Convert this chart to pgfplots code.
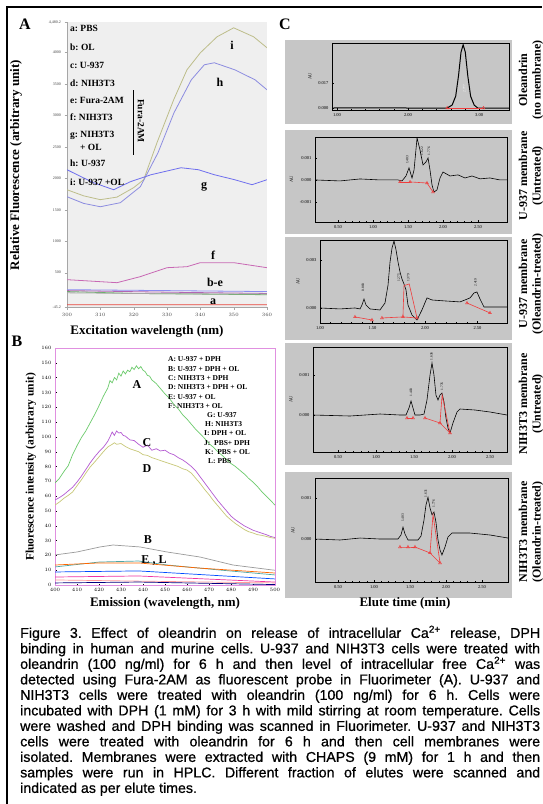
\documentclass[border=0pt]{standalone}
\usepackage{pgfplots}
\pgfplotsset{compat=1.18}
\usepackage{fontspec}
\setmainfont{Liberation Serif}
\newfontfamily\capfont[FakeBold=0.7]{Liberation Sans}
\definecolor{agray}{HTML}{EFEFEF}
\definecolor{pgray}{HTML}{C6C6C6}
\definecolor{ci}{HTML}{BDBD8A}
\definecolor{ch}{HTML}{8C8CE0}
\definecolor{cg}{HTML}{6E6EEE}
\definecolor{cf}{HTML}{C868B4}
\definecolor{cred}{HTML}{E8463C}
\definecolor{bmag}{HTML}{E090E0}
\definecolor{bgreen}{HTML}{6CCB6C}
\definecolor{bpurple}{HTML}{B45AD2}
\definecolor{bkhaki}{HTML}{C8C878}
\definecolor{bgrayc}{HTML}{9A9A9A}
\definecolor{hred}{HTML}{F03C3C}
\pgfplotsset{
  cpan/.style={scale only axis, anchor=north west, axis background/.style={fill=pgray},
    axis line style={black,line width=0.7pt}, tick align=inside, xtick pos=bottom, ytick pos=left,
    major tick length=2pt, minor tick length=1.2pt, tick style={black,line width=0.3pt},
    ticklabel style={font=\fontsize{4.5}{5}\selectfont}, minor x tick num=4,
    ylabel={AU}, ylabel style={font=\fontsize{4.5}{5}\selectfont},
    clip=true},
  trace/.style={black, line width=0.6pt, no marks},
  redl/.style={hred, line width=0.6pt, mark=triangle, mark size=1.6pt, mark options={solid, hred, line width=0.5pt}},
}
\tikzset{pk/.style={rotate=90, anchor=west, font=\fontsize{3.5}{4}\selectfont, inner sep=0.5pt}}
\begin{document}
\frenchspacing
\begin{tikzpicture}[x=1pt,y=1pt]
\useasboundingbox (0,0) rectangle (542,-804);
\fill[white] (0,0) rectangle (542,-804);
\draw[line width=2.5pt] (7,-804) -- (7,-7) -- (542,-7);

% ---------------- Panel A ----------------
\begin{axis}[at={(67pt,-22pt)}, anchor=north west, scale only axis, width=200pt, height=285pt,
  xmin=300,xmax=360,ymin=-45.2,ymax=4480.2, axis lines*=left,
  axis background/.style={fill=agray}, axis line style={gray!70,line width=0.4pt},
  xtick={300,310,...,360}, ytick={-45.2,500,1000,1500,2000,2500,3000,3500,4000,4480.2},
  yticklabels={-45.2,500,1000,1500,2000,2500,3000,3500,4000,{4,480.2}},
  scaled y ticks=false, ticklabel style={font=\fontsize{4}{4}\selectfont, text=gray!50!black},
  tick style={gray!70, line width=0.3pt}, major tick length=2.5pt, tick align=outside,
  no markers, every axis plot/.append style={line width=0.8pt}]
\addplot[ci] coordinates {(300,1817)(305,1720)(310,1659)(315,1700)(320,1850)(323,1976)(327,2564)(332,3245)(336,3722)(340,3991)(345,4245)(350,4388)(356,4245)(360,4071)};
\addplot[ch] coordinates {(300,1706)(305,1600)(310,1547)(316,1611)(322,1865)(327.3,2404)(332.1,3039)(337.3,3563)(341.2,3801)(344.2,3833)(350.3,3722)(356.4,3563)(360,3404)};
\addplot[cg] coordinates {(300,2135)(304,2030)(308,1928)(314,1817)(319,1944)(325.2,2055)(334.2,2166)(339.4,2135)(344.2,2055)(350.3,1976)(355.5,1897)(360,1976)};
\addplot[cf] coordinates {(300,389)(315,341)(322,437)(330,579)(336,595)(340,659)(350,659)(360,579)};
\addplot[color=cg!80] coordinates {(300,230)(330,215)(360,200)};
\addplot[color=green!50!black!60] coordinates {(300,200)(320,170)(340,160)(360,150)};
\addplot[color=violet!60] coordinates {(300,215)(330,190)(360,170)};
\addplot[color=gray!70] coordinates {(300,180)(330,165)(360,160)};
\addplot[cred] coordinates {(300,-8)(360,-10)};
\end{axis}
\node[font=\bfseries\fontsize{16}{16}\selectfont] at (25,-24) {A};
\begin{scope}[every node/.style={anchor=west, font=\bfseries\fontsize{9.5}{10}\selectfont, inner sep=0pt}]
\node at (70,-28) {a: PBS};
\node at (70,-47) {b: OL};
\node at (70,-65) {c: U-937};
\node at (70,-83) {d: NIH3T3};
\node at (70,-100) {e: Fura-2AM};
\node at (70,-117) {f: NIH3T3};
\node at (70,-135) {g: NIH3T3};
\node at (80,-147) {+ OL};
\node at (70,-163) {h: U-937};
\node at (70,-182) {i: U-937 +OL};
\end{scope}
\draw[line width=0.6pt] (133,-90) -- (133,-155);
\node[rotate=-90, font=\bfseries\fontsize{9.5}{10}\selectfont] at (141,-121) {Fura-2AM};
\begin{scope}[every node/.style={font=\bfseries\fontsize{12}{12}\selectfont, inner sep=0pt}]
\node at (232,-45) {i};
\node at (220,-82) {h};
\node at (204,-187) {g};
\node at (213,-255) {f};
\node at (215,-282) {b-e};
\node at (213,-302) {a};
\end{scope}
\node[rotate=90, font=\bfseries\fontsize{13}{13}\selectfont] at (16,-165) {Relative Fluorescence (arbitrary unit)};
\node[font=\bfseries\fontsize{13}{13}\selectfont] at (147,-331) {Excitation wavelength (nm)};

% ---------------- Panel B ----------------
\begin{axis}[at={(55pt,-348pt)}, anchor=north west, scale only axis, width=220pt, height=237pt,
  xmin=400,xmax=500,ymin=0,ymax=160, axis line style={bmag,line width=0.6pt},
  xtick={400,410,...,500}, ytick={0,10,...,160}, ticklabel style={font=\fontsize{3.5}{4}\selectfont},
  tick style={black,line width=0.3pt}, major tick length=1.5pt, tick align=inside, xtick pos=bottom, ytick pos=left,
  no markers, every axis plot/.append style={line width=0.7pt}]
\addplot[bgreen] coordinates {(400,68.9)(402,72)(404,76.5)(406,80.5)(408,88)(410,94)(412,99.5)(414,104)(416,109.5)(418,115)(420,121)(422,127.5)(424,133)(425,138)(426,136.5)(427,140)(428,138.5)(429,143)(430,141)(431,144.5)(432,142.5)(433,145)(434,144)(435,147)(436,145.5)(437,148)(438,146)(439,147.5)(440,145)(441,144)(442,141.5)(443,141)(444,138.5)(446,136)(448,132.5)(450,129)(452,126)(454,122)(456,119)(458,115)(460,112)(462,108.5)(464,105)(466,102)(468,99)(470,95.5)(472,93)(474,90)(476,87.5)(478,84.5)(480,82)(482,80)(484,77.5)(486,75)(488,72)(490,69.5)(492,66.5)(494,63)(496,60)(498,57)(500,54)};
\addplot[bpurple] coordinates {(400,57.4)(402,59)(404,61)(406,63.5)(408,66)(410,69.5)(412,73.5)(414,78)(416,82.5)(418,86.5)(420,90)(422,93)(424,97)(425,100)(426,103.3)(427,101)(428,104)(429,102.6)(430,103)(431,101)(432,100.5)(434,98)(436,97.5)(438,95)(440,93)(442,94.5)(444,91)(446,92)(448,90.5)(450,91)(452,89)(454,88)(456,86)(458,84.5)(460,82.4)(462,80)(464,77)(466,73)(468,69)(470,65)(472,61)(474,57)(476,53.5)(478,50)(480,46.5)(482,44)(484,42)(486,40)(488,38.5)(490,37)(492,36)(494,35)(496,34)(498,32.8)(500,32)};
\addplot[bkhaki] coordinates {(400,54)(402,56)(404,58.5)(406,60.5)(408,62.8)(410,67)(412,71)(414,75.5)(416,79.7)(418,83)(420,86.5)(422,90)(424,93.2)(426,95)(427,96)(428,95)(430,95.5)(432,93.5)(434,92)(436,91)(438,90)(440,88)(442,87.5)(444,86)(446,85)(448,84)(450,83)(452,82)(454,81)(456,80)(458,78.5)(460,77.6)(462,75.5)(464,72)(466,68.5)(468,64.5)(470,61)(472,57)(474,53.5)(476,50)(478,46.5)(480,43.9)(482,41.5)(484,39.5)(486,37.5)(488,36)(490,35.1)(492,34)(494,33.5)(496,32.8)(498,32)(500,31.5)};
\addplot[bgrayc] coordinates {(400,20.3)(410,22.3)(420.5,25.7)(426.4,27)(438.6,25.7)(450.9,22.3)(465.9,18.9)(480.9,13.5)(499.1,10.1)(500,10)};
\addplot[color=teal!70] coordinates {(400,12.2)(420,15.5)(438,16.2)(451,13.5)(475,10.1)(500,6.8)};
\addplot[color=orange!80!red] coordinates {(400,13.5)(420,14.9)(438,14.9)(465,11.5)(500,8.1)};
\addplot[color=blue!70!cyan] coordinates {(400,8.8)(438,9.5)(500,4.1)};
\addplot[color=magenta!80] coordinates {(400,5.4)(438,6.1)(500,2)};
\addplot[color=red!40] coordinates {(400,3.4)(500,1.4)};
\addplot[color=blue!50!black] coordinates {(400,1.4)(438,2)(500,0.3)};
\end{axis}
\node[font=\bfseries\fontsize{16}{16}\selectfont] at (17,-341) {B};
\begin{scope}[every node/.style={anchor=west, font=\bfseries\fontsize{7.5}{8}\selectfont, inner sep=0pt}]
\node at (168,-359) {A: U-937 + DPH};
\node at (168,-369) {B: U-937 + DPH + OL};
\node at (168,-378) {C: NIH3T3 + DPH};
\node at (168,-387) {D: NIH3T3 + DPH + OL};
\node at (168,-397) {E: U-937 + OL};
\node at (168,-406) {F: NIH3T3 + OL};
\node at (207,-415) {G: U-937};
\node at (205,-424) {H: NIH3T3};
\node at (204,-433) {I: DPH + OL};
\node at (204,-443) {J:\ \ PBS+ DPH};
\node at (205,-452) {K:\ \ PBS + OL};
\node at (208,-461) {L: PBS};
\end{scope}
\begin{scope}[every node/.style={font=\bfseries\fontsize{12}{12}\selectfont, inner sep=0pt}]
\node at (137,-385) {A};
\node at (147,-443) {C};
\node at (147,-469) {D};
\node at (148,-540) {B};
\node at (154,-560) {E\ ,\ L};
\end{scope}
\node[rotate=90, font=\bfseries\fontsize{11.5}{12}\selectfont] at (31,-467) {Fluorescence intensity (arbitrary unit)};
\node[font=\bfseries\fontsize{13}{13}\selectfont] at (165,-603) {Emission (wavelength, nm)};

% ---------------- Panel C ----------------
\node[font=\bfseries\fontsize{16}{16}\selectfont] at (285,-24) {C};
\fill[pgray] (285,-40) rectangle (512,-124);
\fill[pgray] (285,-130) rectangle (512,-234);
\fill[pgray] (285,-237) rectangle (512,-340);
\fill[pgray] (285,-343) rectangle (512,-465);
\fill[pgray] (285,-472) rectangle (512,-598);

% C1
\begin{axis}[cpan, at={(332pt,-43pt)}, width=177pt, height=67pt, xmin=0.93, xmax=3.42, ymin=-1.36, ymax=44.2,
  xtick={1,2,3}, xticklabels={1.00,2.00,3.00}, ytick={0,17}, yticklabels={0.000,0.017}]
\addplot[trace, line width=1pt] coordinates {(0.93,0)(1.5,0.1)(2.0,0)(2.55,0)(2.62,2)(2.67,8)(2.71,22)(2.745,38)(2.775,43)(2.805,38)(2.84,22)(2.88,8)(2.93,2)(2.98,0)(3.42,0)};
\addplot[redl] coordinates {(2.55,0)(3.06,0)};
\node[pk] at (axis cs:2.79,10) {\color{white}2.777};
\end{axis}
% C2
\begin{axis}[cpan, at={(315pt,-137pt)}, width=192pt, height=85pt, xmin=0.171, xmax=2.914, ymin=-1.91, ymax=1.95,
  xtick={0.5,1,1.5,2,2.5}, xticklabels={0.50,1.00,1.50,2.00,2.50}, ytick={-1,0,1}, yticklabels={-0.001,0.000,0.001}]
\addplot[trace] coordinates {(0.171,0)(0.529,-0.045)(0.814,0.045)(1.1,0)(1.357,0)(1.414,-0.045)(1.471,0.18)(1.514,0.55)(1.557,0.09)(1.586,0.45)(1.629,1.91)(1.671,1.36)(1.714,0.68)(1.757,0.82)(1.786,1.0)(1.814,0.45)(1.843,-0.23)(1.871,-0.55)(1.914,-0.45)(1.957,0.09)(2.0,0.36)(2.1,0.18)(2.214,0.23)(2.314,0.09)(2.414,0.18)(2.529,0.05)(2.671,0.09)(2.814,0)(2.914,0)};
\addplot[redl] coordinates {(1.386,-0.09)(1.529,-0.09)};
\addplot[redl] coordinates {(1.771,-0.14)(1.857,-0.55)};
\addplot[hred, line width=0.6pt] coordinates {(1.529,-0.09)(1.771,-0.14)};
\node[pk] at (axis cs:1.49,0.7) {1.403};
\node[pk] at (axis cs:1.70,1.1) {1.622};
\node[pk] at (axis cs:1.80,1.1) {1.776};
\end{axis}
% C3
\begin{axis}[cpan, at={(320pt,-240pt)}, width=187pt, height=83pt, xmin=1.0, xmax=2.781, ymin=-0.94, ymax=4.25,
  xtick={1,1.5,2,2.5}, xticklabels={1.00,1.50,2.00,2.50}, ytick={0,3}, yticklabels={0.000,0.003}]
\addplot[trace] coordinates {(1.0,0)(1.19,-0.06)(1.333,0)(1.381,-0.06)(1.4,0.19)(1.419,0.56)(1.438,0.19)(1.476,-0.06)(1.571,-0.125)(1.619,0.31)(1.648,1.44)(1.667,2.88)(1.686,3.75)(1.705,4.19)(1.724,3.63)(1.743,2.88)(1.762,2.25)(1.781,1.81)(1.8,1.5)(1.819,1.13)(1.838,0.19)(1.876,-0.44)(1.924,-0.75)(1.971,-0.125)(2.019,0.63)(2.067,0.5)(2.19,0.44)(2.333,0.38)(2.381,0.5)(2.429,0.63)(2.467,0.94)(2.495,1.0)(2.524,0.56)(2.562,0.06)(2.667,0.06)(2.781,0.06)};
\addplot[redl] coordinates {(1.333,-0.56)(1.495,-0.75)};
\addplot[redl] coordinates {(1.59,-0.625)(1.79,-0.56)(1.924,-0.625)};
\addplot[hred, line width=0.6pt] coordinates {(1.79,-0.56)(1.80,1.4)(1.85,1.5)(1.924,-0.625)};
\addplot[redl] coordinates {(2.4,0.31)(2.619,-0.31)};
\node[pk] at (axis cs:1.41,1.0) {0.883};
\node[pk] at (axis cs:1.75,1.6) {1.275};
\node[pk] at (axis cs:1.84,1.6) {1.379};
\node[pk] at (axis cs:2.48,1.3) {2.419};
\end{axis}
% C4
\begin{axis}[cpan, at={(313pt,-347pt)}, width=194pt, height=105pt, xmin=0.171, xmax=2.724, ymin=-0.925, ymax=1.7,
  xtick={0.5,1,1.5,2,2.5}, xticklabels={0.50,1.00,1.50,2.00,2.50}, ytick={0,1}, yticklabels={0.000,0.001}]
\addplot[trace] coordinates {(0.171,0)(0.658,-0.025)(1.053,0.025)(1.316,0)(1.395,0)(1.434,0.175)(1.461,0.35)(1.487,0.175)(1.513,0)(1.579,0)(1.632,0.025)(1.671,0.375)(1.711,1.0)(1.737,1.3)(1.763,1.0)(1.789,0.5)(1.816,0.375)(1.842,0.5)(1.868,0.55)(1.895,0.325)(1.921,-0.075)(1.947,-0.325)(1.974,-0.45)(2.013,-0.2)(2.066,0.075)(2.105,0.15)(2.303,0.125)(2.5,0.075)(2.724,0)};
\addplot[redl] coordinates {(1.408,-0.075)(1.487,-0.075)};
\addplot[redl] coordinates {(1.645,-0.075)(1.842,-0.2)(1.974,-0.45)};
\addplot[hred, line width=0.6pt] coordinates {(1.842,-0.2)(1.87,0.5)(1.974,-0.45)};
\node[pk] at (axis cs:1.46,0.45) {1.403};
\node[pk] at (axis cs:1.73,1.35) {1.636};
\node[pk] at (axis cs:1.87,0.6) {1.776};
\end{axis}
% C5
\begin{axis}[cpan, at={(315pt,-478pt)}, width=193pt, height=104pt, xmin=0.181, xmax=2.861, ymin=-1.05, ymax=1.49,
  xtick={0.5,1,1.5,2,2.5}, xticklabels={0.50,1.00,1.50,2.00,2.50}, ytick={0,1}, yticklabels={0.000,0.001}]
\addplot[trace] coordinates {(0.181,0)(0.528,-0.024)(0.806,0.024)(1.083,0)(1.333,0)(1.375,0.1)(1.403,0.29)(1.431,0.12)(1.472,-0.024)(1.611,-0.024)(1.653,0.073)(1.694,0.46)(1.722,0.83)(1.75,1.02)(1.778,0.76)(1.806,0.59)(1.833,0.66)(1.861,0.41)(1.889,-0.024)(1.917,-0.27)(1.944,-0.39)(1.986,-0.195)(2.028,0.05)(2.083,0.146)(2.333,0.146)(2.611,0.098)(2.861,0.024)};
\addplot[redl] coordinates {(1.361,-0.195)(1.472,-0.195)(1.569,-0.195)};
\addplot[redl] coordinates {(1.778,-0.34)(1.917,-0.585)};
\addplot[hred, line width=0.6pt] coordinates {(1.569,-0.195)(1.778,-0.34)(1.82,0.6)(1.917,-0.585)};
\node[pk] at (axis cs:1.40,0.4) {1.403};
\node[pk] at (axis cs:1.72,1.0) {1.631};
\node[pk] at (axis cs:1.83,0.75) {1.776};
\end{axis}
\begin{scope}[every node/.style={rotate=90, align=center, font=\bfseries\fontsize{12}{13.5}\selectfont, inner sep=0pt}]
\node at (531,-80) {Oleandrin\\(no membrane)};
\node at (531,-176) {U-937 membrane\\(Untreated)};
\node at (531,-284) {U-937 membrane\\(Oleandrin-treated)};
\node at (531,-404) {NIH3T3 membrane\\(Untreated)};
\node at (531,-532) {NIH3T3 membrane\\(Oleandrin-treated)};
\end{scope}
\node[font=\bfseries\fontsize{13}{13}\selectfont] at (405,-603) {Elute time (min)};

% ---------------- Caption ----------------
\node[anchor=north west, inner sep=0pt, text width=520pt, align=justify,
  font=\capfont\fontsize{14.2}{15.5}\selectfont] at (20,-625.5) {%
Figure 3. Effect of oleandrin on release of intracellular Ca\textsuperscript{2+} release, DPH\linebreak
binding in human and murine cells. U-937 and NIH3T3 cells were treated with\linebreak
oleandrin (100 ng/ml) for 6 h and then level of intracellular free Ca\textsuperscript{2+} was\linebreak
detected using Fura-2AM as fluorescent probe in Fluorimeter (A). U-937 and\linebreak
NIH3T3 cells were treated with oleandrin (100 ng/ml) for 6 h. Cells were\linebreak
incubated with DPH (1 mM) for 3 h with mild stirring at room temperature. Cells\linebreak
were washed and DPH binding was scanned in Fluorimeter. U-937 and NIH3T3\linebreak
cells were treated with oleandrin for 6 h and then cell membranes were\linebreak
isolated. Membranes were extracted with CHAPS (9 mM) for 1 h and then\linebreak
samples were run in HPLC. Different fraction of elutes were scanned and\linebreak
indicated as per elute times.};
\end{tikzpicture}
\end{document}
